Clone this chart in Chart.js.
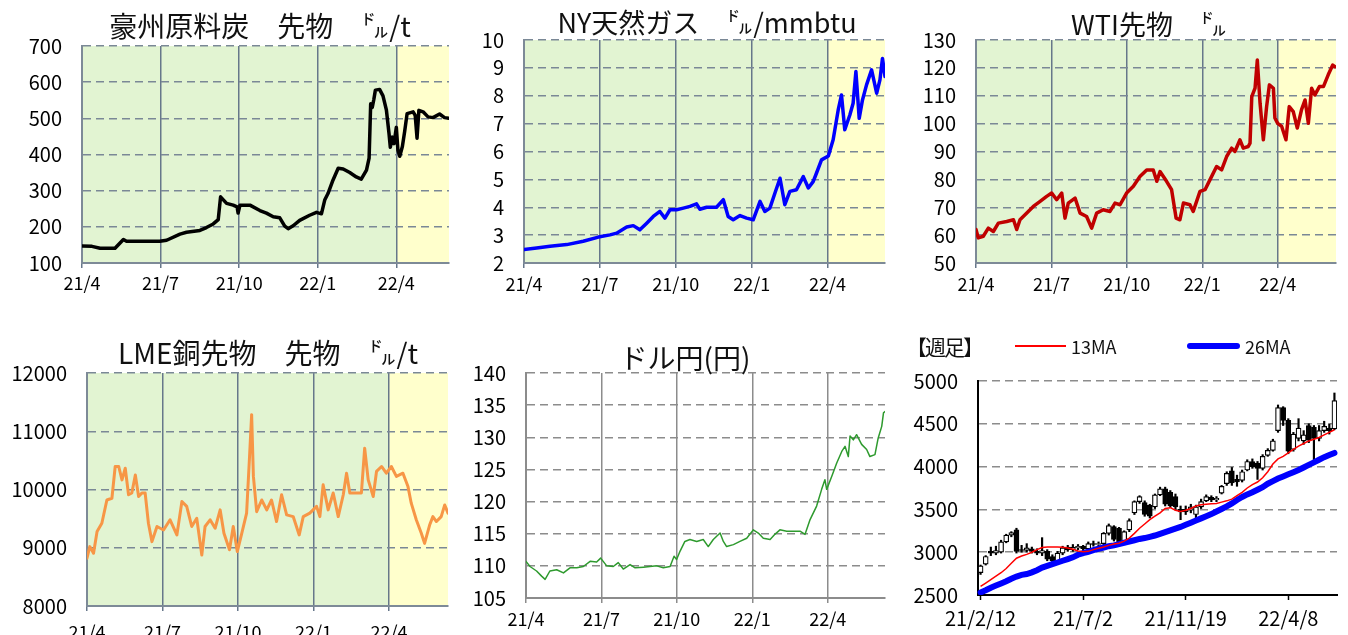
<!DOCTYPE html>
<html><head><meta charset="utf-8">
<script src="https://cdn.jsdelivr.net/npm/chart.js@4.4.1/dist/chart.umd.min.js"></script>
<style>
body{margin:0;background:#fff;width:1348px;height:635px;overflow:hidden;position:relative;font-family:'Noto Sans CJK JP',sans-serif;}
canvas{position:absolute;}
.ttl{position:absolute;white-space:nowrap;line-height:30px;height:30px;color:#111;text-align:center;width:500px;z-index:5;}
.lg{position:absolute;white-space:nowrap;color:#111;z-index:5;}
</style></head><body>
<canvas id="c1"></canvas><canvas id="c2"></canvas><canvas id="c3"></canvas>
<canvas id="c4"></canvas><canvas id="c5"></canvas><canvas id="c6"></canvas>
<div class="ttl" style="left:10px;top:10px;font-size:28px;">豪州原料炭　先物　㌦/t</div>
<div class="ttl" style="left:457px;top:7px;font-size:27px;">NY天然ガス　㌦/mmbtu</div>
<div class="ttl" style="left:899px;top:9px;font-size:27px;">WTI先物　㌦</div>
<div class="ttl" style="left:18px;top:337px;font-size:28px;">LME銅先物　先物　㌦/t</div>
<div class="ttl" style="left:435px;top:342px;font-size:28px;">ドル円(円)</div>
<div class="lg" style="left:906px;top:332px;font-size:21px;line-height:28px;letter-spacing:-2px;">【週足】</div>
<div class="lg" style="left:1015px;top:345px;width:51px;height:2px;background:#ff0000;"></div>
<div class="lg" style="left:1071px;top:334px;font-size:18px;line-height:24px;">13MA</div>
<div class="lg" style="left:1187px;top:343px;width:53px;height:6px;border-radius:3px;background:#0000ff;"></div>
<div class="lg" style="left:1245px;top:334px;font-size:18px;line-height:24px;">26MA</div>
<script>
// ---------- shared x axis (months from 2021/4) ----------
const monthTickPos = [0, 3, 6, 9, 12];
const monthTickLabels = ['21/4', '21/7', '21/10', '22/1', '22/4'];
const shadeSplit = 12;

// ---------- 豪州原料炭 ----------
const coalMonths = [0,0.38,0.69,1.26,1.58,1.70,2.34,2.97,3.23,3.74,3.99,4.50,4.75,5.01,5.20,5.29,5.52,5.77,5.92,5.96,6.03,6.41,6.79,7.04,7.30,7.55,7.74,7.87,8.06,8.31,8.69,8.95,9.14,9.27,9.39,9.58,9.78,9.97,10.22,10.47,10.66,10.86,10.96,11.02,11.08,11.14,11.20,11.36,11.49,11.62,11.72,11.77,11.85,11.91,12.00,12.06,12.13,12.23,12.32,12.41,12.64,12.72,12.79,12.86,13.02,13.21,13.40,13.65,13.84,14.01];
const coalPrice = [147,146,141,141,165,160,160,160,163,180,185,190,198,208,220,283,265,260,255,238,260,260,245,238,228,225,202,195,203,218,232,240,236,275,292,329,362,360,350,338,332,357,390,540,530,552,578,580,562,523,458,420,448,430,475,412,395,422,465,513,518,508,445,522,518,504,502,512,502,500];

// ---------- NY天然ガス ----------
const gasMonths = [0,0.50,1.03,1.69,2.34,2.94,3.40,3.66,4.06,4.32,4.58,4.85,5.11,5.37,5.57,5.77,6.03,6.30,6.56,6.82,6.95,7.22,7.61,7.88,8.07,8.27,8.54,8.80,9.06,9.33,9.52,9.72,9.92,10.12,10.31,10.51,10.77,11.04,11.24,11.43,11.56,11.76,12.03,12.22,12.42,12.55,12.68,12.88,13.01,13.12,13.25,13.38,13.54,13.74,13.94,14.07,14.17,14.27];
const gasPrice = [2.48,2.54,2.60,2.66,2.78,2.93,3.01,3.07,3.29,3.34,3.19,3.43,3.67,3.85,3.61,3.91,3.91,3.97,4.03,4.12,3.93,4.00,4.00,4.27,3.67,3.55,3.70,3.61,3.55,4.21,3.85,3.97,4.51,5.04,4.09,4.57,4.63,5.10,4.69,4.92,5.22,5.70,5.84,6.42,7.49,8.03,6.78,7.31,7.73,8.87,7.19,7.85,8.39,8.93,8.09,8.57,9.34,8.69];

// ---------- WTI先物 ----------
const wtiMonths = [0,0.09,0.29,0.49,0.69,0.89,1.22,1.49,1.62,1.75,2.02,2.28,2.55,2.81,3.01,3.21,3.41,3.54,3.67,3.94,4.14,4.40,4.60,4.80,5.06,5.33,5.53,5.73,5.99,6.26,6.52,6.79,7.05,7.19,7.32,7.58,7.78,7.96,8.11,8.25,8.51,8.64,8.91,9.11,9.31,9.57,9.77,9.97,10.17,10.30,10.50,10.63,10.83,10.90,10.97,11.10,11.19,11.30,11.43,11.56,11.67,11.83,11.89,12.00,12.16,12.33,12.46,12.62,12.78,12.95,13.09,13.22,13.35,13.48,13.66,13.82,14.01,14.19,14.28];
const wtiPrice = [62,59,59.6,62.5,61.3,64.3,64.9,65.5,62,65.5,67.9,70.3,72.1,73.9,75.1,72.7,75.1,66.1,71.5,73.3,67.9,66.7,62.5,67.9,69.1,68.5,71.5,70.9,75.1,77.5,81.0,83.4,83.4,79.3,82.8,79.3,76.3,66.1,65.5,71.5,70.9,68.5,75.7,76.3,79.9,84.6,83.4,88.2,91.2,90.0,94.2,91.2,91.8,93.0,109.7,112.7,122.8,107.3,94.2,106.1,113.9,112.7,102,100.1,99,94.2,106.1,104.3,98.4,105,108.5,100.1,112.7,110.3,113.3,113.3,117.5,121,120.4];

// ---------- LME銅 ----------
const cuMonths = [0,0.11,0.26,0.40,0.59,0.79,0.99,1.12,1.26,1.39,1.52,1.65,1.78,1.92,2.05,2.18,2.31,2.44,2.58,2.78,3.04,3.30,3.57,3.77,3.96,4.16,4.36,4.56,4.69,4.89,5.09,5.29,5.44,5.66,5.81,5.97,6.15,6.34,6.45,6.54,6.61,6.74,6.94,7.14,7.33,7.53,7.73,7.93,8.19,8.43,8.59,8.85,9.12,9.25,9.38,9.58,9.78,9.98,10.18,10.31,10.44,10.70,10.90,11.03,11.17,11.37,11.50,11.70,11.89,12.09,12.29,12.55,12.75,12.88,13.08,13.28,13.41,13.61,13.74,13.88,14.07,14.21,14.34];
const cuPrice = [8820,9020,8905,9280,9420,9820,9850,10395,10395,10165,10365,9910,9940,10250,9880,9940,9940,9420,9105,9365,9305,9480,9220,9795,9710,9365,9505,8875,9365,9480,9335,9650,9250,8965,9365,8935,9250,9595,10510,11285,10225,9620,9820,9650,9820,9450,9910,9565,9535,9220,9535,9595,9710,9535,10080,9650,9940,9535,9910,10280,9940,9940,9940,10710,10165,9880,10310,10395,10280,10395,10225,10280,10050,9765,9480,9250,9075,9390,9535,9450,9535,9735,9595];

// ---------- ドル円 ----------
const fxMonths = [0,0.16,0.42,0.62,0.76,0.95,1.22,1.49,1.75,2.02,2.28,2.55,2.81,2.97,3.21,3.47,3.67,3.87,4.14,4.34,4.67,4.93,5.20,5.46,5.73,5.89,5.99,6.13,6.32,6.52,6.79,7.05,7.25,7.45,7.72,7.85,7.98,8.25,8.51,8.78,9.04,9.24,9.44,9.71,9.90,10.10,10.37,10.63,10.90,11.10,11.30,11.56,11.76,11.89,11.96,12.16,12.36,12.56,12.69,12.82,12.89,13.02,13.15,13.35,13.55,13.68,13.88,14.01,14.15,14.22,14.28];
const fxRate = [110.7,109.9,109.2,108.4,107.9,109.2,109.4,108.9,109.7,109.7,109.9,110.7,110.6,111.2,110.0,109.9,110.5,109.5,110.2,109.7,109.8,109.9,110.0,109.7,109.9,111.5,111.0,112.3,113.8,114.1,113.8,114.1,113.0,114.1,115.1,113.8,113.0,113.3,113.8,114.3,115.6,115.1,114.3,114.1,114.9,115.6,115.4,115.4,115.4,114.9,117.2,119.3,121.9,123.4,121.9,123.9,126.0,127.8,128.6,127.0,130.2,129.6,130.4,128.9,128.1,127.0,127.3,129.9,131.7,133.8,134.0];

// ---------- 週足 ----------
const wkLabels = ['21/2/12','21/2/19','21/2/26','21/3/5','21/3/12','21/3/19','21/3/26','21/4/2','21/4/9','21/4/16','21/4/23','21/4/30','21/5/7','21/5/14','21/5/21','21/5/28','21/6/4','21/6/11','21/6/18','21/6/25','21/7/2','21/7/9','21/7/16','21/7/23','21/7/30','21/8/6','21/8/13','21/8/20','21/8/27','21/9/3','21/9/10','21/9/17','21/9/24','21/10/1','21/10/8','21/10/15','21/10/22','21/10/29','21/11/5','21/11/12','21/11/19','21/11/26','21/12/3','21/12/10','21/12/17','21/12/24','21/12/31','22/1/7','22/1/14','22/1/21','22/1/28','22/2/4','22/2/11','22/2/18','22/2/25','22/3/4','22/3/11','22/3/18','22/3/25','22/4/1','22/4/8','22/4/15','22/4/22','22/4/29','22/5/6','22/5/13','22/5/20','22/5/27','22/6/3','22/6/10'];
const wkTickIdx = [0, 20, 40, 60];
const wkOpen  = [2760,2860,3010,2990,3000,3120,3200,3260,3030,3020,3040,3010,2990,3010,2950,2900,2990,3060,3030,3050,3070,3040,3100,3090,3100,3220,3300,3280,3130,3260,3460,3590,3580,3550,3530,3670,3740,3700,3650,3500,3470,3490,3440,3530,3600,3640,3610,3690,3800,3950,3850,3840,3960,4060,4040,3980,4130,4190,4420,4690,4540,4200,4330,4300,4480,4460,4330,4420,4450,4440];
const wkHigh  = [2850,2960,3060,3070,3140,3210,3240,3280,3080,3100,3060,3040,3170,3030,2970,3010,3070,3080,3090,3090,3080,3120,3130,3120,3230,3330,3310,3290,3250,3390,3600,3660,3600,3560,3680,3760,3760,3720,3680,3540,3540,3560,3550,3620,3670,3660,3650,3780,3940,3990,3900,3960,4080,4090,4060,4140,4210,4320,4720,4700,4560,4400,4560,4420,4500,4480,4480,4530,4500,4860];
const wkLow   = [2740,2850,2960,2970,2990,3110,3180,2990,3000,3000,2990,2970,2960,2900,2880,2890,2970,3010,3010,3030,3020,3030,3070,3060,3080,3200,3130,3100,3110,3240,3440,3570,3420,3400,3510,3660,3540,3520,3500,3380,3440,3460,3390,3510,3590,3590,3590,3680,3780,3780,3770,3820,3950,3980,3850,3960,4120,4180,4400,4480,4150,4180,4300,4260,4280,4060,4300,4400,4380,4430];
const wkClose = [2840,2950,2990,3020,3120,3200,3230,3010,3020,3050,3010,2990,3020,2920,2900,2990,3050,3030,3060,3070,3040,3100,3090,3100,3220,3310,3150,3120,3240,3370,3590,3650,3440,3420,3670,3740,3560,3540,3530,3470,3500,3530,3530,3590,3650,3610,3630,3770,3920,3810,3820,3940,4060,4000,3980,4120,4190,4300,4690,4540,4180,4380,4450,4370,4310,4330,4420,4470,4420,4770];
const ma13 = [2600,2640,2680,2720,2760,2810,2870,2930,2955,2975,3000,3030,3055,3060,3060,3060,3058,3050,3035,3015,3005,3010,3030,3045,3060,3080,3095,3105,3130,3165,3220,3280,3330,3380,3420,3460,3510,3520,3490,3475,3490,3510,3540,3555,3560,3565,3570,3585,3600,3620,3660,3700,3750,3790,3820,3870,3940,4030,4090,4120,4160,4200,4240,4270,4300,4320,4340,4370,4400,4430];
const ma26 = [2530,2555,2585,2610,2635,2660,2690,2715,2735,2745,2765,2790,2820,2840,2860,2880,2900,2920,2940,2970,2990,3005,3025,3040,3055,3070,3080,3095,3110,3125,3140,3155,3165,3180,3195,3215,3235,3255,3275,3295,3320,3345,3370,3395,3420,3445,3475,3505,3535,3570,3610,3645,3675,3700,3730,3760,3800,3830,3860,3885,3910,3935,3960,3990,4020,4050,4080,4110,4135,4160];

// ---------- rendering ----------
Chart.defaults.font.family = "'Noto Sans CJK JP', sans-serif";
Chart.defaults.color = '#000';

const shadePlugin = {
  id: 'shade',
  beforeDraw(chart, args, opts) {
    if (!opts.on) return;
    const a = chart.chartArea, x = chart.scales.x, ctx = chart.ctx;
    const xs = x.getPixelForValue(shadeSplit);
    ctx.save();
    ctx.fillStyle = opts.green;
    ctx.fillRect(a.left, a.top, xs - a.left, a.bottom - a.top);
    ctx.fillStyle = opts.yellow;
    ctx.fillRect(xs, a.top, a.right - xs, a.bottom - a.top);
    ctx.restore();
  }
};

function setupCanvas(id, cv) {
  const el = document.getElementById(id);
  el.width = cv.w; el.height = cv.h;
  el.style.left = cv.l + 'px'; el.style.top = cv.t + 'px';
  el.style.width = cv.w + 'px'; el.style.height = cv.h + 'px';
  return el;
}

function linePanel(id, cv, plot, xs, ys, style, yAxis, xMax, shaded, xPad) {
  const el = setupCanvas(id, cv);
  new Chart(el, {
    type: 'line',
    data: { datasets: [{
      data: xs.map((x, i) => ({ x: x, y: ys[i] })),
      borderColor: style.color, borderWidth: style.width,
      pointRadius: 0, tension: 0, borderJoinStyle: 'round', borderCapStyle: 'round'
    }]},
    options: {
      responsive: false, animation: false, events: [],
      layout: { padding: { top: plot.t - cv.t, right: cv.l + cv.w - plot.r, left: 0, bottom: 0 } },
      plugins: { legend: { display: false }, tooltip: { enabled: false },
        shade: { on: shaded, green: '#e2f4d2', yellow: '#ffffcc' } },
      scales: {
        x: {
          type: 'linear', min: 0, max: xMax,
          afterBuildTicks: s => { s.ticks = monthTickPos.map(v => ({ value: v })); },
          afterFit: s => { s.height = cv.t + cv.h - plot.b; },
          ticks: { callback: v => monthTickLabels[monthTickPos.indexOf(v)], maxRotation: 0, autoSkip: false, padding: xPad, font: { size: 18 } },
          grid: { color: style.vGrid, lineWidth: 1.5, drawTicks: true, tickLength: 5, tickColor: style.vGrid, tickWidth: 1.5 },
          border: { display: true, color: style.axis, width: 2 }
        },
        y: {
          min: yAxis.min, max: yAxis.max,
          afterFit: s => { s.width = plot.l - cv.l; },
          ticks: { stepSize: yAxis.step, padding: 20, font: { size: 20 }, callback: v => String(v) },
          grid: { color: style.hGrid, lineWidth: 1.5, drawTicks: false },
          border: { display: true, color: style.axis, width: 2, dash: [8, 5] }
        }
      }
    },
    plugins: [shadePlugin]
  });
}

const slate = { vGrid: '#66778a', hGrid: '#7a8896', axis: '#7d8a97' };

linePanel('c1', { l: 0, t: 8, w: 456, h: 305 }, { l: 82, t: 46, r: 449, b: 263 },
  coalMonths, coalPrice, Object.assign({ color: '#000000', width: 3.5 }, slate),
  { min: 100, max: 700, step: 100 }, 14.01, true, 4);
linePanel('c2', { l: 456, t: 2, w: 436, h: 311 }, { l: 524, t: 40, r: 885, b: 263 },
  gasMonths, gasPrice, Object.assign({ color: '#0000ff', width: 3.5 }, slate),
  { min: 2, max: 10, step: 1 }, 14.27, true, 5);
linePanel('c3', { l: 892, t: 2, w: 456, h: 311 }, { l: 976, t: 40, r: 1336, b: 263 },
  wtiMonths, wtiPrice, Object.assign({ color: '#c00000', width: 3.5 }, slate),
  { min: 50, max: 130, step: 10 }, 14.32, true, 5);
linePanel('c4', { l: 0, t: 335, w: 456, h: 320 }, { l: 87, t: 373, r: 448, b: 606 },
  cuMonths, cuPrice, Object.assign({ color: '#f79646', width: 3 }, slate),
  { min: 8000, max: 12000, step: 1000 }, 14.34, true, 10);
linePanel('c5', { l: 456, t: 335, w: 436, h: 310 }, { l: 526, t: 373, r: 885, b: 598 },
  fxMonths, fxRate, { color: '#2e9a2e', width: 1.5, vGrid: '#8c8c8c', hGrid: '#8c8c8c', axis: '#8c8c8c' },
  { min: 105, max: 140, step: 5 }, 14.28, false, 5);

// candle panel
(function () {
  const cv = { l: 892, t: 343, w: 456, h: 300 };
  const plot = { l: 978, t: 381, r: 1337, b: 595 };
  const el = setupCanvas('c6', cv);
  new Chart(el, {
    type: 'bar',
    data: {
      labels: wkLabels,
      datasets: [
        { type: 'line', label: '13MA', data: ma13, borderColor: '#ff0000', borderWidth: 1.5, pointRadius: 0, tension: 0, order: 1 },
        { type: 'line', label: '26MA', data: ma26, borderColor: '#0000ff', borderWidth: 6, pointRadius: 0, tension: 0, order: 2, borderCapStyle: 'round' },
        { label: 'body', data: wkOpen.map((o, i) => [o, wkClose[i]]),
          backgroundColor: wkOpen.map((o, i) => wkClose[i] >= o ? '#ffffff' : '#000000'),
          borderColor: '#000000', borderWidth: 1.2, borderSkipped: false, barThickness: 5, grouped: false, order: 3 },
        { label: 'wick', data: wkLow.map((l, i) => [l, wkHigh[i]]), backgroundColor: '#000000',
          barThickness: 1.5, grouped: false, order: 4 }
      ]
    },
    options: {
      responsive: false, animation: false, events: [],
      layout: { padding: { top: plot.t - cv.t, right: cv.l + cv.w - plot.r, left: 0, bottom: 0 } },
      plugins: { legend: { display: false }, tooltip: { enabled: false } },
      scales: {
        x: {
          type: 'category', offset: true,
          afterFit: s => { s.height = cv.t + cv.h - plot.b; },
          ticks: { autoSkip: false, maxRotation: 0, padding: 6, font: { size: 20 },
            callback: function (v, i) { return wkTickIdx.includes(i) ? this.getLabelForValue(v) : ''; } },
          grid: { offset: false, drawOnChartArea: false, drawTicks: true, tickLength: 5, tickWidth: 1.5,
            color: 'rgba(0,0,0,0)',
            tickColor: ctx => wkTickIdx.includes(ctx.index) ? '#000000' : 'rgba(0,0,0,0)' },
          border: { display: true, color: '#000000', width: 2 }
        },
        y: {
          min: 2500, max: 5000,
          afterFit: s => { s.width = plot.l - cv.l; },
          ticks: { stepSize: 500, padding: 20, font: { size: 20 }, callback: v => String(v) },
          grid: { color: '#8c8c8c', lineWidth: 1.5, drawTicks: false },
          border: { display: true, color: '#000000', width: 2, dash: [8, 5] }
        }
      }
    }
  });
})();
</script>
</body></html>
